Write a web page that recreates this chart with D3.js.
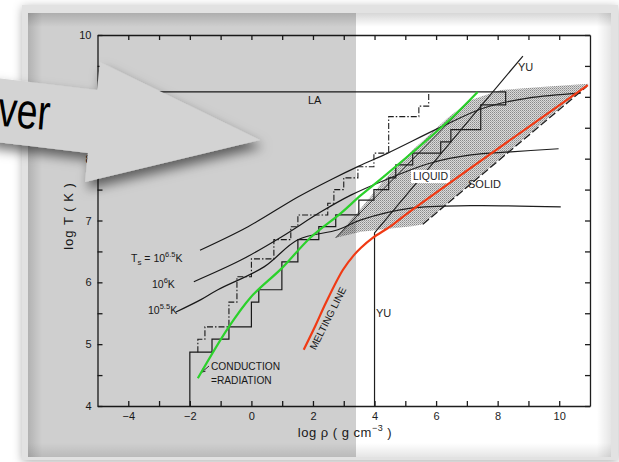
<!DOCTYPE html>
<html>
<head>
<meta charset="utf-8">
<script src="https://cdn.jsdelivr.net/npm/d3@7"></script>
<style>
  html, body { margin: 0; padding: 0; background: #fff; }
  svg { display: block; }
  text { font-family: "Liberation Sans", Arial, Helvetica, sans-serif; }
</style>
</head>
<body>
<div id="chart"></div>
<script>
// ---- values: [log rho, log T] ----
const xTickValues = [-4, -3, -2, -1, 0, 1, 2, 3, 4, 5, 6, 7, 8, 9, 10];
const xTickLabels = [-4, -2, 0, 2, 4, 6, 8, 10];
const yTickValues = [4, 4.5, 5, 5.5, 6, 6.5, 7, 7.5, 8, 8.5, 9, 9.5, 10];
const yTickLabels = [4, 5, 6, 7, 8, 9, 10];

const curveTs65 = [[-1.67,6.52],[-0.11,6.90],[1.51,7.38],[2.58,7.66],[3.49,7.88],[4.43,8.09],[6.15,8.51],[7.55,8.82],[8.98,8.98],[10.7,9.06]];
const curveTs60 = [[-1.87,6.01],[-0.34,6.36],[0.96,6.73],[2.26,7.14],[3.23,7.41],[4.37,7.66],[5.83,7.93],[7.13,8.06],[8.43,8.11],[9.98,8.16]];
const curveTs55 = [[-2.45,5.52],[-1.64,5.72],[-1.09,5.88],[0.41,6.25],[1.51,6.69],[2.81,6.85],[3.56,7.01],[5.18,7.20],[7.13,7.24],[10.05,7.22]];

const conductionLine = [[-1.74,4.45],[-0.76,5.26],[-0.02,5.76],[0.99,6.23],[1.93,6.73],[2.91,7.12],[3.56,7.41],[4.30,7.71],[6.38,8.60],[7.35,9.08]];
const meltingLine = [[1.70,4.91],[2.09,5.31],[2.42,5.67],[2.97,6.20],[3.33,6.44],[3.56,6.56],[3.94,6.72],[4.53,6.91],[5.08,7.12],[10.93,9.19]];
const solidBoundary = [[5.57,6.94],[10.9,9.17]];
const liquidRegion = [[2.74,6.72],[3.56,7.20],[4.37,7.69],[5.24,8.14],[6.38,8.66],[7.13,8.95],[8.10,9.11],[9.40,9.16],[10.96,9.21],[5.57,6.94],[5.28,6.91],[3.56,6.82]];
const liquidEdge = [[2.74,6.72],[7.13,8.95]];
const yuLine = [[4,4],[4,6.8],[8.82,9.66]];

// solid staircase (YU): vertical at stepX[i] up to stepY[i], then across to stepX[i+1]
const solidStepX = [-2, -1.28, -0.73, 0, 0.24, 0.99, 1.51, 2.19, 2.74, 3.49, 3.98, 4.46, 4.69, 5.24, 6.15, 6.48, 7.45, 8.26];
const solidStepY = [4.87, 5.08, 5.28, 5.68, 5.88, 6.33, 6.69, 6.90, 7.09, 7.33, 7.50, 7.69, 7.90, 8.09, 8.27, 8.47, 8.87, 9.08];
// dash-dot staircase
const dashStepX = [-1.74, -1.51, -0.73, -0.47, 0, 0.73, 1.28, 1.51, 2.48, 2.68, 3.0, 3.46, 3.98, 4.46, 5.44, 5.76];
const dashStepY = [5.08, 5.28, 5.68, 6.09, 6.38, 6.69, 6.90, 7.09, 7.28, 7.50, 7.69, 7.87, 8.09, 8.68, 8.85, 9.08];
const laLevel = 9.08;

// ---- layout ----
const W = 619, H = 462;
const photo = { x: 28, y: 13, w: 583, h: 444 };
const greyRight = 356;

const svg = d3.select('#chart').append('svg')
  .attr('width', W)
  .attr('height', H);

const defs = svg.append('defs');

const frameShadow = defs.append('filter').attr('id', 'frameShadow')
  .attr('x', '-10%').attr('y', '-10%').attr('width', '120%').attr('height', '120%');
frameShadow.append('feDropShadow')
  .attr('dx', 0).attr('dy', 2).attr('stdDeviation', 5)
  .attr('flood-color', '#000').attr('flood-opacity', 0.3);

const arrowShadow = defs.append('filter').attr('id', 'arrowShadow')
  .attr('x', '-20%').attr('y', '-30%').attr('width', '150%').attr('height', '170%');
arrowShadow.append('feDropShadow')
  .attr('dx', 3).attr('dy', 7).attr('stdDeviation', 6)
  .attr('flood-color', '#000').attr('flood-opacity', 0.55);

const stipple = defs.append('pattern').attr('id', 'stipple')
  .attr('width', 2).attr('height', 2).attr('patternUnits', 'userSpaceOnUse');
stipple.append('rect').attr('width', 2).attr('height', 2).attr('fill', '#dadada');
stipple.append('rect').attr('width', 1).attr('height', 1).attr('fill', '#8a8a8a');
stipple.append('rect').attr('x', 1).attr('y', 1).attr('width', 1).attr('height', 1).attr('fill', '#aaaaaa');

function edgeGradient(id, x1, y1, x2, y2, a){
  const g = defs.append('linearGradient').attr('id', id)
    .attr('x1', x1).attr('y1', y1).attr('x2', x2).attr('y2', y2);
  g.append('stop').attr('offset', 0).attr('stop-color', '#000').attr('stop-opacity', a);
  g.append('stop').attr('offset', 1).attr('stop-color', '#000').attr('stop-opacity', 0);
}
edgeGradient('gTop', 0, 0, 0, 1, 0.16);
edgeGradient('gLeft', 0, 0, 1, 0, 0.14);
edgeGradient('gRight', 1, 0, 0, 0, 0.10);
edgeGradient('gBottom', 0, 1, 0, 0, 0.10);

// ---- frame + photo ----
svg.append('rect')
  .attr('x', 22).attr('y', 5).attr('width', 596).attr('height', 455)
  .attr('fill', '#e2e2e2')
  .attr('filter', 'url(#frameShadow)');
svg.append('rect')
  .attr('x', photo.x).attr('y', photo.y).attr('width', photo.w).attr('height', photo.h)
  .attr('fill', '#fff');

// ---- scales ----
const x = d3.scaleLinear().domain([-5, 11]).range([97.5, 590]);
const y = d3.scaleLinear().domain([4, 10]).range([406, 35]);

const fig = svg.append('g');
const ink = '#1e1e1e';

// liquid region (stippled)
fig.append('path')
  .attr('d', d3.line().x(d => x(d[0])).y(d => y(d[1]))(liquidRegion) + 'Z')
  .attr('fill', 'url(#stipple)');

// ---- axes ----
function styleAxis(g){
  g.selectAll('path, line').attr('stroke', ink).attr('stroke-width', 1.3);
  g.selectAll('text').attr('fill', ink).style('font-size', '11px');
}
const fmtX = d => xTickLabels.includes(d) ? d3.format('')(d) : '';
const fmtY = d => yTickLabels.includes(d) ? d : '';

fig.append('g').attr('transform', 'translate(0,' + y(4) + ')')
  .call(d3.axisBottom(x).tickValues(xTickValues).tickSize(-5).tickSizeOuter(0).tickPadding(6).tickFormat(fmtX))
  .call(styleAxis);
fig.append('g').attr('transform', 'translate(0,' + y(10) + ')')
  .call(d3.axisTop(x).tickValues(xTickValues).tickSize(-5).tickSizeOuter(0).tickFormat(''))
  .call(styleAxis);
fig.append('g').attr('transform', 'translate(' + x(-5) + ',0)')
  .call(d3.axisLeft(y).tickValues(yTickValues).tickSize(-5).tickSizeOuter(0).tickPadding(6).tickFormat(fmtY))
  .call(styleAxis);
fig.append('g').attr('transform', 'translate(' + x(11) + ',0)')
  .call(d3.axisRight(y).tickValues(yTickValues).tickSize(-5).tickSizeOuter(0).tickFormat(''))
  .call(styleAxis);

// ---- black curves ----
const smooth = d3.line().x(d => x(d[0])).y(d => y(d[1])).curve(d3.curveCatmullRom.alpha(0.5));
const straight = d3.line().x(d => x(d[0])).y(d => y(d[1]));

[curveTs65, curveTs60, curveTs55].forEach(c => {
  fig.append('path').attr('d', smooth(c))
    .attr('fill', 'none').attr('stroke', ink).attr('stroke-width', 1.2);
});

function stepPoints(x0, y0, xs, ys){
  const pts = [[x0, y0]];
  xs.forEach((sx, i) => {
    pts.push([sx, ys[i]]);
    if (i + 1 < xs.length) pts.push([xs[i + 1], ys[i]]);
  });
  return pts;
}
const solidPts = stepPoints(solidStepX[0], 4, solidStepX, solidStepY);
solidPts.push([-5, laLevel]);
fig.append('path').attr('d', straight(solidPts))
  .attr('fill', 'none').attr('stroke', ink).attr('stroke-width', 1.2);

fig.append('path').attr('d', straight(stepPoints(dashStepX[0], solidStepY[0], dashStepX, dashStepY)))
  .attr('fill', 'none').attr('stroke', ink).attr('stroke-width', 1.1)
  .attr('stroke-dasharray', '6,2,1.5,2');

fig.append('path').attr('d', straight(yuLine))
  .attr('fill', 'none').attr('stroke', ink).attr('stroke-width', 1.2);
fig.append('path').attr('d', straight(liquidEdge))
  .attr('fill', 'none').attr('stroke', ink).attr('stroke-width', 0.9);
fig.append('path').attr('d', straight(solidBoundary))
  .attr('fill', 'none').attr('stroke', ink).attr('stroke-width', 1.3)
  .attr('stroke-dasharray', '8,3');

// ---- labels in the figure ----
const lab = fig.append('g').attr('fill', ink).style('font-size', '11px');
lab.append('text').attr('x', 308).attr('y', 104).text('LA');
lab.append('text').attr('x', 518).attr('y', 71).text('YU');
lab.append('text').attr('x', 376).attr('y', 317).text('YU');
lab.append('rect').attr('x', 411).attr('y', 170).attr('width', 39).attr('height', 13).attr('fill', '#fff');
lab.append('text').attr('x', 413).attr('y', 180).style('font-size', '10.5px').text('LIQUID');
lab.append('text').attr('x', 468).attr('y', 188).text('SOLID');
lab.append('text').attr('x', 211).attr('y', 370).style('font-size', '10.2px').text('CONDUCTION');
lab.append('text').attr('x', 211).attr('y', 384).style('font-size', '10.2px').text('=RADIATION');
lab.append('path').attr('d', 'M209,366 L202,372 M202,372 l1,-3.5 M202,372 l3.5,-0.8')
  .attr('stroke', ink).attr('stroke-width', 0.9).attr('fill', 'none');
lab.append('text')
  .attr('transform', 'translate(331,320) rotate(-63)')
  .attr('text-anchor', 'middle').style('font-size', '10px')
  .text('MELTING LINE');

function tsLabel(px, py, prefix, exp){
  const t = lab.append('text').attr('x', px).attr('y', py).style('font-size', '10.5px');
  if (prefix) {
    t.append('tspan').text('T');
    t.append('tspan').attr('dy', 3).style('font-size', '8px').text('s');
    t.append('tspan').attr('dy', -3).text(' = 10');
  } else {
    t.append('tspan').text('10');
  }
  t.append('tspan').attr('dy', -5).style('font-size', '7.5px').text(exp);
  t.append('tspan').attr('dy', 5).text('K');
}
tsLabel(131, 262, true, '6.5');
tsLabel(152, 288, false, '6');
tsLabel(148, 314, false, '5.5');

// axis titles
fig.append('text')
  .attr('transform', 'translate(73,216) rotate(-90)')
  .attr('text-anchor', 'middle').attr('fill', ink)
  .style('font-size', '13px').style('letter-spacing', '1px')
  .text('log T ( K )');
const xt = fig.append('text')
  .attr('x', 345).attr('y', 437)
  .attr('text-anchor', 'middle').attr('fill', ink)
  .style('font-size', '13px').style('letter-spacing', '0.5px');
xt.append('tspan').text('log \u03C1 ( g cm');
xt.append('tspan').attr('dy', -6).style('font-size', '9px').text('\u22123');
xt.append('tspan').attr('dy', 6).text(' )');

// ---- grey overlay on the left part ----
svg.append('rect')
  .attr('x', photo.x).attr('y', photo.y)
  .attr('width', greyRight - photo.x).attr('height', photo.h)
  .attr('fill', 'rgba(0,0,0,0.19)');

// ---- coloured lines drawn over the figure ----
svg.append('path').attr('d', smooth(conductionLine))
  .attr('fill', 'none').attr('stroke', '#2bd12b').attr('stroke-width', 2.2);
svg.append('path').attr('d', smooth(meltingLine))
  .attr('fill', 'none').attr('stroke', '#f03a14').attr('stroke-width', 2.2);

// ---- inner shadow of the photo ----
svg.append('rect').attr('x', photo.x).attr('y', photo.y).attr('width', photo.w).attr('height', 14).attr('fill', 'url(#gTop)');
svg.append('rect').attr('x', photo.x).attr('y', photo.y).attr('width', 14).attr('height', photo.h).attr('fill', 'url(#gLeft)');
svg.append('rect').attr('x', photo.x + photo.w - 14).attr('y', photo.y).attr('width', 14).attr('height', photo.h).attr('fill', 'url(#gRight)');
svg.append('rect').attr('x', photo.x).attr('y', photo.y + photo.h - 14).attr('width', photo.w).attr('height', 14).attr('fill', 'url(#gBottom)');

// ---- callout arrow ----
const arrow = svg.append('g');
arrow.append('polygon')
  .attr('points', '-12,77 97,90 100,62 260,140 85,182 88,153 -12,141')
  .attr('fill', '#d3d3d3')
  .attr('filter', 'url(#arrowShadow)');
arrow.append('text')
  .attr('x', -2).attr('y', 128)
  .attr('transform', 'rotate(5,25,115)')
  .attr('fill', '#000')
  .attr('textLength', 52).attr('lengthAdjust', 'spacingAndGlyphs')
  .style('font-size', '50px')
  .text('ver');
</script>
</body>
</html>
